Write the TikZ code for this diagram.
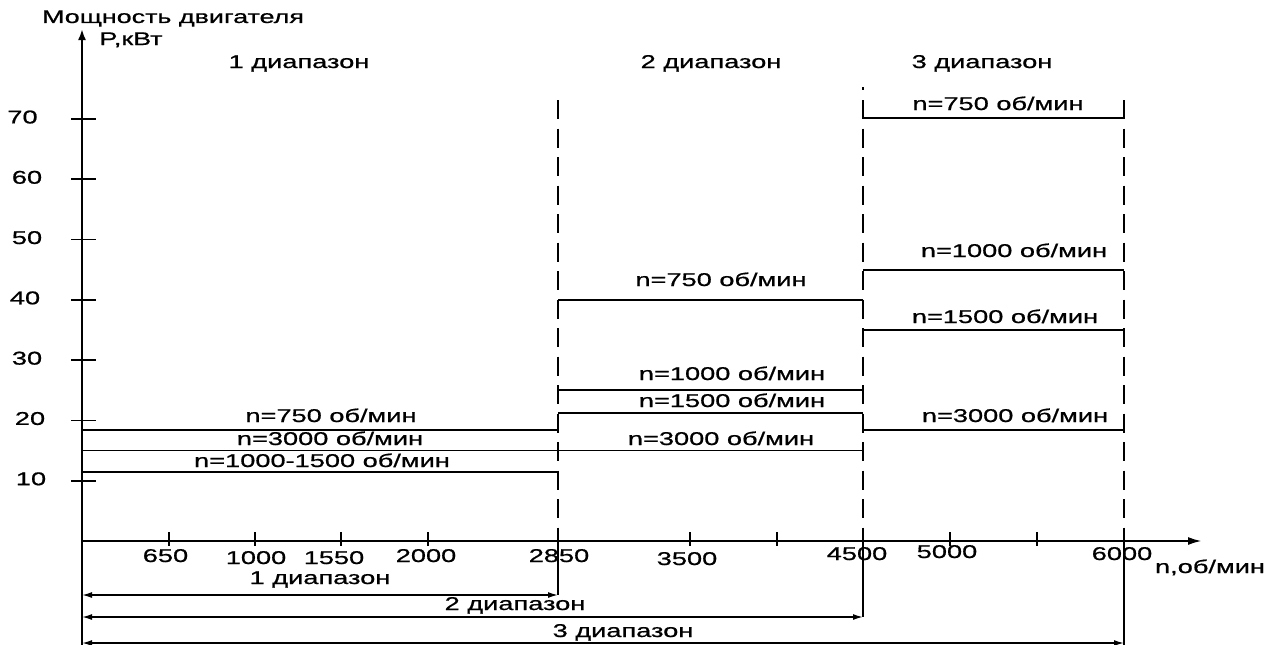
\documentclass[tikz,border=0pt]{standalone}
\usepackage{fontspec}
\setmainfont{Liberation Sans}[FakeStretch=1.47,FakeBold=0.8]
\usetikzlibrary{arrows.meta}
\begin{document}
\begin{tikzpicture}[x=1pt,y=-1pt,
  lbl/.style={inner sep=0pt, anchor=base, font=\fontsize{18.5}{20}\selectfont},
  ttl/.style={inner sep=0pt, anchor=base, font=\fontsize{18.3}{20}\selectfont},
  axisline/.style={line width=2.2pt},
  rline/.style={line width=1.8pt},
  dline/.style={line width=2.2pt, dash pattern=on 19pt off 9.5pt},
  tickline/.style={line width=1.7pt},
  dimline/.style={line width=1.5pt, {Latex[length=10pt,width=6pt]}-{Latex[length=10pt,width=6pt]}},
]
\useasboundingbox[fill=white] (0,0) rectangle (1274,645);

% axes
\coordinate (O) at (82,541);
\coordinate (Ytop) at (82,29);
\coordinate (Ybot) at (82,645);
\coordinate (Xend) at (1202,541);
\draw[axisline,-{Latex[length=11pt,width=8pt]}] (Ybot) -- (Ytop);
\draw[axisline,-{Latex[length=14pt,width=8pt]}] (O) -- (Xend);

% y ticks and labels
\foreach \p/\lx in {70/22.5,60/27,50/27,40/25,30/27,20/30,10/31}{
  \coordinate (tl\p) at (71,{541-6.03*\p});
  \coordinate (tr\p) at (96,{541-6.03*\p});
  \draw[tickline] (tl\p) -- (tr\p);
  \node[lbl] (yl\p) at (\lx,{541-6.03*\p+4.5}) {\p};
}

% x ticks
\foreach \x in {169,255,341,428,690,777,950,1037}{
  \coordinate (xt\x) at (\x,532);
  \coordinate (xb\x) at (\x,546);
  \draw[tickline] (xt\x) -- (xb\x);
}

% x labels
\node[lbl] (x650) at (165.5,562) {650};
\node[lbl] (x1000) at (256,564) {1000};
\node[lbl] (x1550) at (334,564) {1550};
\node[lbl] (x2000) at (426,562) {2000};
\node[lbl] (x2850) at (559,562) {2850};
\node[lbl] (x3500) at (687,565) {3500};
\node[lbl] (x4500) at (857,560) {4500};
\node[lbl] (x5000) at (947,558) {5000};
\node[lbl] (x6000) at (1122,560) {6000};
\node[lbl] (xunit) at (1210,573) {n,об/мин};

% dashed range boundaries
\coordinate (d1t) at (558,100); \coordinate (d1a) at (558,541); \coordinate (d1b) at (558,595);
\coordinate (d2t) at (863,100); \coordinate (d2a) at (863,541); \coordinate (d2b) at (863,617);
\coordinate (d3t) at (1124,100); \coordinate (d3a) at (1124,541); \coordinate (d3b) at (1124,645);
\draw[dline] (d1t) -- (d1a);
\draw[dline] (d2t) -- (d2a);
\draw[dline] (d3t) -- (d3a);
\draw[rline] (d1a) -- (d1b);
\draw[rline] (d2a) -- (d2b);
\draw[rline] (d3a) -- (d3b);
\coordinate (dot1) at (863,87); \coordinate (dot2) at (863,90);
\draw[rline] (dot1) -- (dot2);

% range 1 lines
\coordinate (r1a) at (82,430);   \coordinate (r1b) at (558,430);
\coordinate (r1c) at (82,450.5); \coordinate (r1d) at (863,450.5);
\coordinate (r1e) at (82,471.6); \coordinate (r1f) at (558,471.6);
\draw[rline] (r1a) -- (r1b);
\draw[rline] (r1c) -- (r1d);
\draw[rline] (r1e) -- (r1f);
% range 2 lines
\coordinate (r2a) at (558,300); \coordinate (r2b) at (863,300);
\coordinate (r2c) at (558,390); \coordinate (r2d) at (863,390);
\coordinate (r2e) at (558,413); \coordinate (r2f) at (863,413);
\draw[rline] (r2a) -- (r2b);
\draw[rline] (r2c) -- (r2d);
\draw[rline] (r2e) -- (r2f);
% range 3 lines
\coordinate (r3a) at (863,118);  \coordinate (r3b) at (1124,118);
\coordinate (r3c) at (863,270);  \coordinate (r3d) at (1124,270);
\coordinate (r3e) at (863,330);  \coordinate (r3f) at (1124,330);
\coordinate (r3g) at (863,430);  \coordinate (r3h) at (1124,430);
\draw[rline] (r3a) -- (r3b);
\draw[rline] (r3c) -- (r3d);
\draw[rline] (r3e) -- (r3f);
\draw[rline] (r3g) -- (r3h);

% line labels
\node[lbl] (l1a) at (331,422) {n=750 об/мин};
\node[lbl] (l1b) at (330,445) {n=3000 об/мин};
\node[lbl] (l1c) at (322,467) {n=1000-1500 об/мин};
\node[lbl] (l2a) at (721,286) {n=750 об/мин};
\node[lbl] (l2b) at (732,380) {n=1000 об/мин};
\node[lbl] (l2c) at (732,407) {n=1500 об/мин};
\node[lbl] (l2d) at (721,445) {n=3000 об/мин};
\node[lbl] (l3a) at (998,110) {n=750 об/мин};
\node[lbl] (l3b) at (1014,257) {n=1000 об/мин};
\node[lbl] (l3c) at (1005,323) {n=1500 об/мин};
\node[lbl] (l3d) at (1015,422) {n=3000 об/мин};

% titles
\node[ttl] (title) at (173,23) {Мощность двигателя};
\node[ttl] (punit) at (131,45) {P,кВт};
\node[lbl] (top1) at (299,68) {1 диапазон};
\node[lbl] (top2) at (711,68) {2 диапазон};
\node[lbl] (top3) at (982,68) {3 диапазон};

% bottom range dimension arrows
\coordinate (a1l) at (82,595);  \coordinate (a1r) at (558,595);
\coordinate (a2l) at (82,617);  \coordinate (a2r) at (863,617);
\coordinate (a3l) at (82,643);  \coordinate (a3r) at (1124,643);
\draw[dimline] (a1l) -- (a1r);
\draw[dimline] (a2l) -- (a2r);
\draw[dimline] (a3l) -- (a3r);
\node[lbl] (b1) at (320,584) {1 диапазон};
\node[lbl] (b2) at (515,610) {2 диапазон};
\node[lbl] (b3) at (623,637) {3 диапазон};
\end{tikzpicture}
\end{document}
